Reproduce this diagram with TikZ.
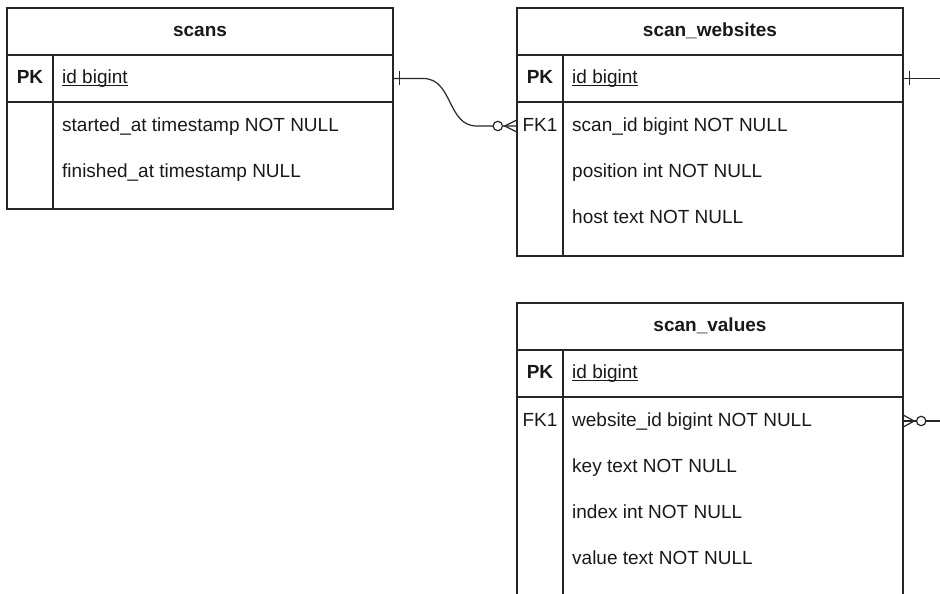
\documentclass[tikz,border=0pt]{standalone}
\usepackage{fontspec}
\setmainfont{Liberation Sans}

\tikzset{
  tbl/.style={draw=black!85, line width=1.2pt},
  rel/.style={draw=black!85, line width=1.2pt},
  txt/.style={font=\fontsize{19}{22}\selectfont, text=black!90, inner sep=0pt, text height=13.5pt, text depth=3.5pt},
  hdr/.style={txt, font=\bfseries\fontsize{19}{22}\selectfont},
  keytxt/.style={txt},
  attrtxt/.style={txt, anchor=west},
  rowbox/.style={minimum width=386pt, minimum height=46pt, inner sep=0pt},
}

% underline sitting close to the baseline
\NewDocumentCommand{\pkname}{m}{\setbox0\hbox{#1}\rlap{\rule[-2.5pt]{\wd0}{1pt}}\box0}

% table: name, left, top, title, height, rows key/text
\NewDocumentCommand{\ertable}{mmmmmm}{%
\begin{scope}[shift={(#2,#3)}]%
\draw[tbl] (0,0) rectangle (386,#5);
\draw[tbl] (0,47) -- (386,47) (0,94) -- (386,94) (46,47) -- (46,#5);
\node[hdr] (#1) at (193,23.5) {#4};
\node[rowbox] (#1-r0) at (193,70.5) {};
\node[hdr] (#1-k0) at (23,70.5) {PK};
\node[attrtxt] (#1-a0) at (55,70.5) {\pkname{id bigint}};
\foreach \k/\t [count=\i] in {#6} {
  \node[rowbox] (#1-r\i) at (193,{118+46*(\i-1)}) {};
  \node[keytxt] (#1-k\i) at (23,{118+46*(\i-1)}) {\k};
  \node[attrtxt] (#1-a\i) at (55,{118+46*(\i-1)}) {\t};
}
\end{scope}%
}

\begin{document}
\begin{tikzpicture}[x=1pt, y=-1pt]
    \useasboundingbox (0,0) rectangle (940,594);
    \clip (0,0) rectangle (940,594);

    % tables
    \ertable{scans}{7}{8}{scans}{201}{{}/started\_at timestamp NOT NULL, {}/finished\_at timestamp NULL}
    \ertable{sw}{517}{8}{scan\_websites}{248}{FK1/scan\_id bigint NOT NULL, {}/position int NOT NULL, {}/host text NOT NULL}
    \ertable{sv}{517}{303}{scan\_values}{320}{FK1/website\_id bigint NOT NULL, {}/key text NOT NULL, {}/index int NOT NULL, {}/value text NOT NULL}

    % scans -> scan_websites
    \draw[rel] (scans-r0.east) -- ++(30,0) .. controls +(30,0) and +(-30,0) .. ([xshift=-40pt]sw-r1.west) -- (sw-r1.west);
    \draw[rel] ([xshift=6pt,yshift=7pt]scans-r0.east) -- ([xshift=6pt,yshift=-7pt]scans-r0.east);
    \draw[rel] ([yshift=6pt]sw-r1.west) -- ([xshift=-12pt]sw-r1.west) -- ([yshift=-6pt]sw-r1.west);
    \draw[rel, fill=white] ([xshift=-19pt]sw-r1.west) circle (4.7pt);

    % scan_websites -> scan_values
    \draw[rel] (sw-r0.east) -- ++(80,0) |- (sv-r1.east);
    \draw[rel] ([xshift=6pt,yshift=7pt]sw-r0.east) -- ([xshift=6pt,yshift=-7pt]sw-r0.east);
    \draw[rel] ([yshift=6pt]sv-r1.east) -- ([xshift=11pt]sv-r1.east) -- ([yshift=-6pt]sv-r1.east);
    \draw[rel, fill=white] ([xshift=18pt]sv-r1.east) circle (4.7pt);
\end{tikzpicture}
\end{document}
